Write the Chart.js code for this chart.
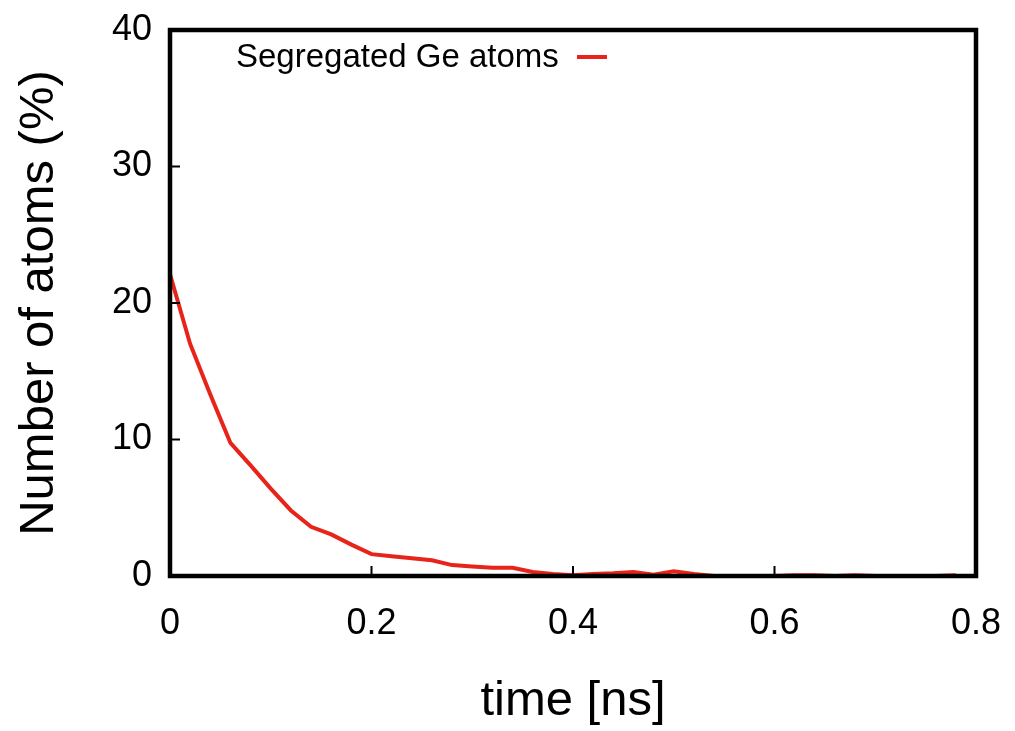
<!DOCTYPE html>
<html>
<head>
<meta charset="utf-8">
<script src="https://cdn.jsdelivr.net/npm/chart.js@4"></script>
<style>
  html, body { margin: 0; padding: 0; background: #fff; }
  #wrap { width: 1015px; height: 731px; }
</style>
</head>
<body>
<div id="wrap"><canvas id="chart" width="1015" height="731"></canvas></div>
<script>
// time in ns, every 0.02 ns
let times = [0, 0.02, 0.04, 0.06, 0.08, 0.10, 0.12, 0.14, 0.16, 0.18,
             0.20, 0.22, 0.24, 0.26, 0.28, 0.30, 0.32, 0.34, 0.36, 0.38,
             0.40, 0.42, 0.44, 0.46, 0.48, 0.50, 0.52, 0.54, 0.56, 0.58,
             0.60, 0.62, 0.64, 0.66, 0.68, 0.70, 0.72, 0.74, 0.76, 0.78];
// segregated Ge atoms (%)
let segregated = [22.1, 17.0, 13.3, 9.75, 8.1, 6.4, 4.8, 3.6, 3.05, 2.3,
                  1.6, 1.45, 1.3, 1.15, 0.8, 0.7, 0.6, 0.6, 0.3, 0.15,
                  0.05, 0.15, 0.2, 0.3, 0.1, 0.35, 0.15, 0, 0, 0,
                  0, 0.05, 0.05, 0, 0.05, 0, 0, 0, 0, 0.05];
let xTicks = [0, 0.2, 0.4, 0.6, 0.8];
let yTicks = [0, 10, 20, 30, 40];
let seriesLabel = "Segregated Ge atoms";

const FONT = "'Liberation Sans', Arial, Helvetica, sans-serif";
const RED = "#e8231a";

// gnuplot-like frame, inward ticks and key
const framePlugin = {
  id: "frame",
  afterDraw(chart) {
    let ctx = chart.ctx;
    let a = chart.chartArea;
    let xs = chart.scales.x, ys = chart.scales.y;
    ctx.save();
    ctx.strokeStyle = "#000";
    ctx.lineWidth = 2;
    xTicks.forEach(v => {
      let px = xs.getPixelForValue(v);
      ctx.beginPath();
      ctx.moveTo(px, a.bottom);
      ctx.lineTo(px, a.bottom - 10);
      ctx.stroke();
    });
    yTicks.forEach(v => {
      let py = ys.getPixelForValue(v);
      ctx.beginPath();
      ctx.moveTo(a.left, py);
      ctx.lineTo(a.left + 10, py);
      ctx.stroke();
    });
    ctx.lineWidth = 4.5;
    ctx.strokeRect(a.left, a.top, a.right - a.left, a.bottom - a.top);

    // key
    ctx.fillStyle = "#000";
    ctx.font = "33px " + FONT;
    ctx.textBaseline = "middle";
    ctx.textAlign = "left";
    ctx.fillText(seriesLabel, 236, 58);
    ctx.strokeStyle = RED;
    ctx.lineWidth = 4;
    ctx.beginPath();
    ctx.moveTo(577, 57);
    ctx.lineTo(607, 57);
    ctx.stroke();
    ctx.restore();
  }
};

let ctx = document.getElementById("chart").getContext("2d");
let chart = new Chart(ctx, {
  type: "line",
  data: {
    datasets: [{
      label: seriesLabel,
      data: times.map((t, i) => ({ x: t, y: segregated[i] })),
      borderColor: RED,
      borderWidth: 4,
      pointRadius: 0,
      tension: 0,
      fill: false
    }]
  },
  options: {
    responsive: false,
    animation: false,
    layout: { padding: { top: 30, right: 39, left: 0, bottom: 0 } },
    plugins: { legend: { display: false }, tooltip: { enabled: false } },
    scales: {
      x: {
        type: "linear",
        min: 0, max: 0.8,
        afterBuildTicks: s => { s.ticks = xTicks.map(v => ({ value: v })); },
        ticks: {
          color: "#000",
          font: { family: FONT, size: 36 },
          padding: 26,
          maxRotation: 0,
          callback: v => String(v)
        },
        grid: { display: false, drawTicks: false },
        border: { display: false },
        title: {
          display: true,
          text: "time [ns]",
          color: "#000",
          font: { family: FONT, size: 49 },
          padding: { top: 0, bottom: 0 }
        },
        afterFit: s => {
          s.height = 155;
          s.paddingLeft = 0;
          s.paddingRight = 0;
        }
      },
      y: {
        min: 0, max: 40,
        afterBuildTicks: s => { s.ticks = yTicks.map(v => ({ value: v })); },
        ticks: {
          color: "#000",
          font: { family: FONT, size: 36 },
          padding: 18
        },
        grid: { display: false, drawTicks: false },
        border: { display: false },
        title: {
          display: true,
          text: "Number of atoms (%)",
          color: "#000",
          font: { family: FONT, size: 49 },
          padding: { top: 10, bottom: 0 }
        },
        afterFit: s => {
          s.width = 170;
          s.paddingTop = 0;
          s.paddingBottom = 0;
        }
      }
    }
  },
  plugins: [framePlugin]
});
</script>
</body>
</html>
